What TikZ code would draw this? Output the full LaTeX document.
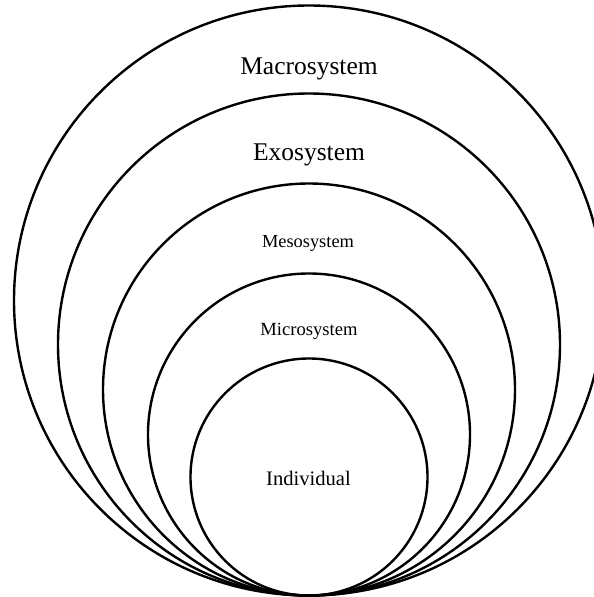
\documentclass[tikz,border=0pt]{standalone}
\usepackage{fontspec}
\setmainfont{Liberation Serif}
\begin{document}
\begin{tikzpicture}[x=1pt,y=-1pt,
  ring/.style={circle,draw=black,line width=2.4pt,inner sep=0pt,outer sep=0pt},
  lbl/.style={inner sep=0pt,text=black}]
\useasboundingbox (0,0) rectangle (594,597);
\clip (0,0) rectangle (594,597);
\fill[white] (0,0) rectangle (594,597);
\node[ring,minimum size=590pt] (macro) at (309,300.5) {};
\node[ring,minimum size=502pt] (exo) at (309,344.5) {};
\node[ring,minimum size=412pt] (meso) at (309,389.5) {};
\node[ring,minimum size=322pt] (micro) at (309,434.5) {};
\node[ring,minimum size=237pt] (indiv) at (309,477) {};
\node[lbl,font=\fontsize{25.5}{28}\selectfont] (tmacro) at (309,69) {Macrosystem};
\node[lbl,font=\fontsize{25.5}{28}\selectfont] (texo) at (309,154.5) {Exosystem};
\node[lbl,font=\fontsize{18.4}{21}\selectfont] (tmeso) at (308,243) {Mesosystem};
\node[lbl,font=\fontsize{18.6}{21}\selectfont] (tmicro) at (309,331) {Microsystem};
\node[lbl,font=\fontsize{20.6}{23}\selectfont] (tindiv) at (308.5,478) {Individual};
\end{tikzpicture}
\end{document}
